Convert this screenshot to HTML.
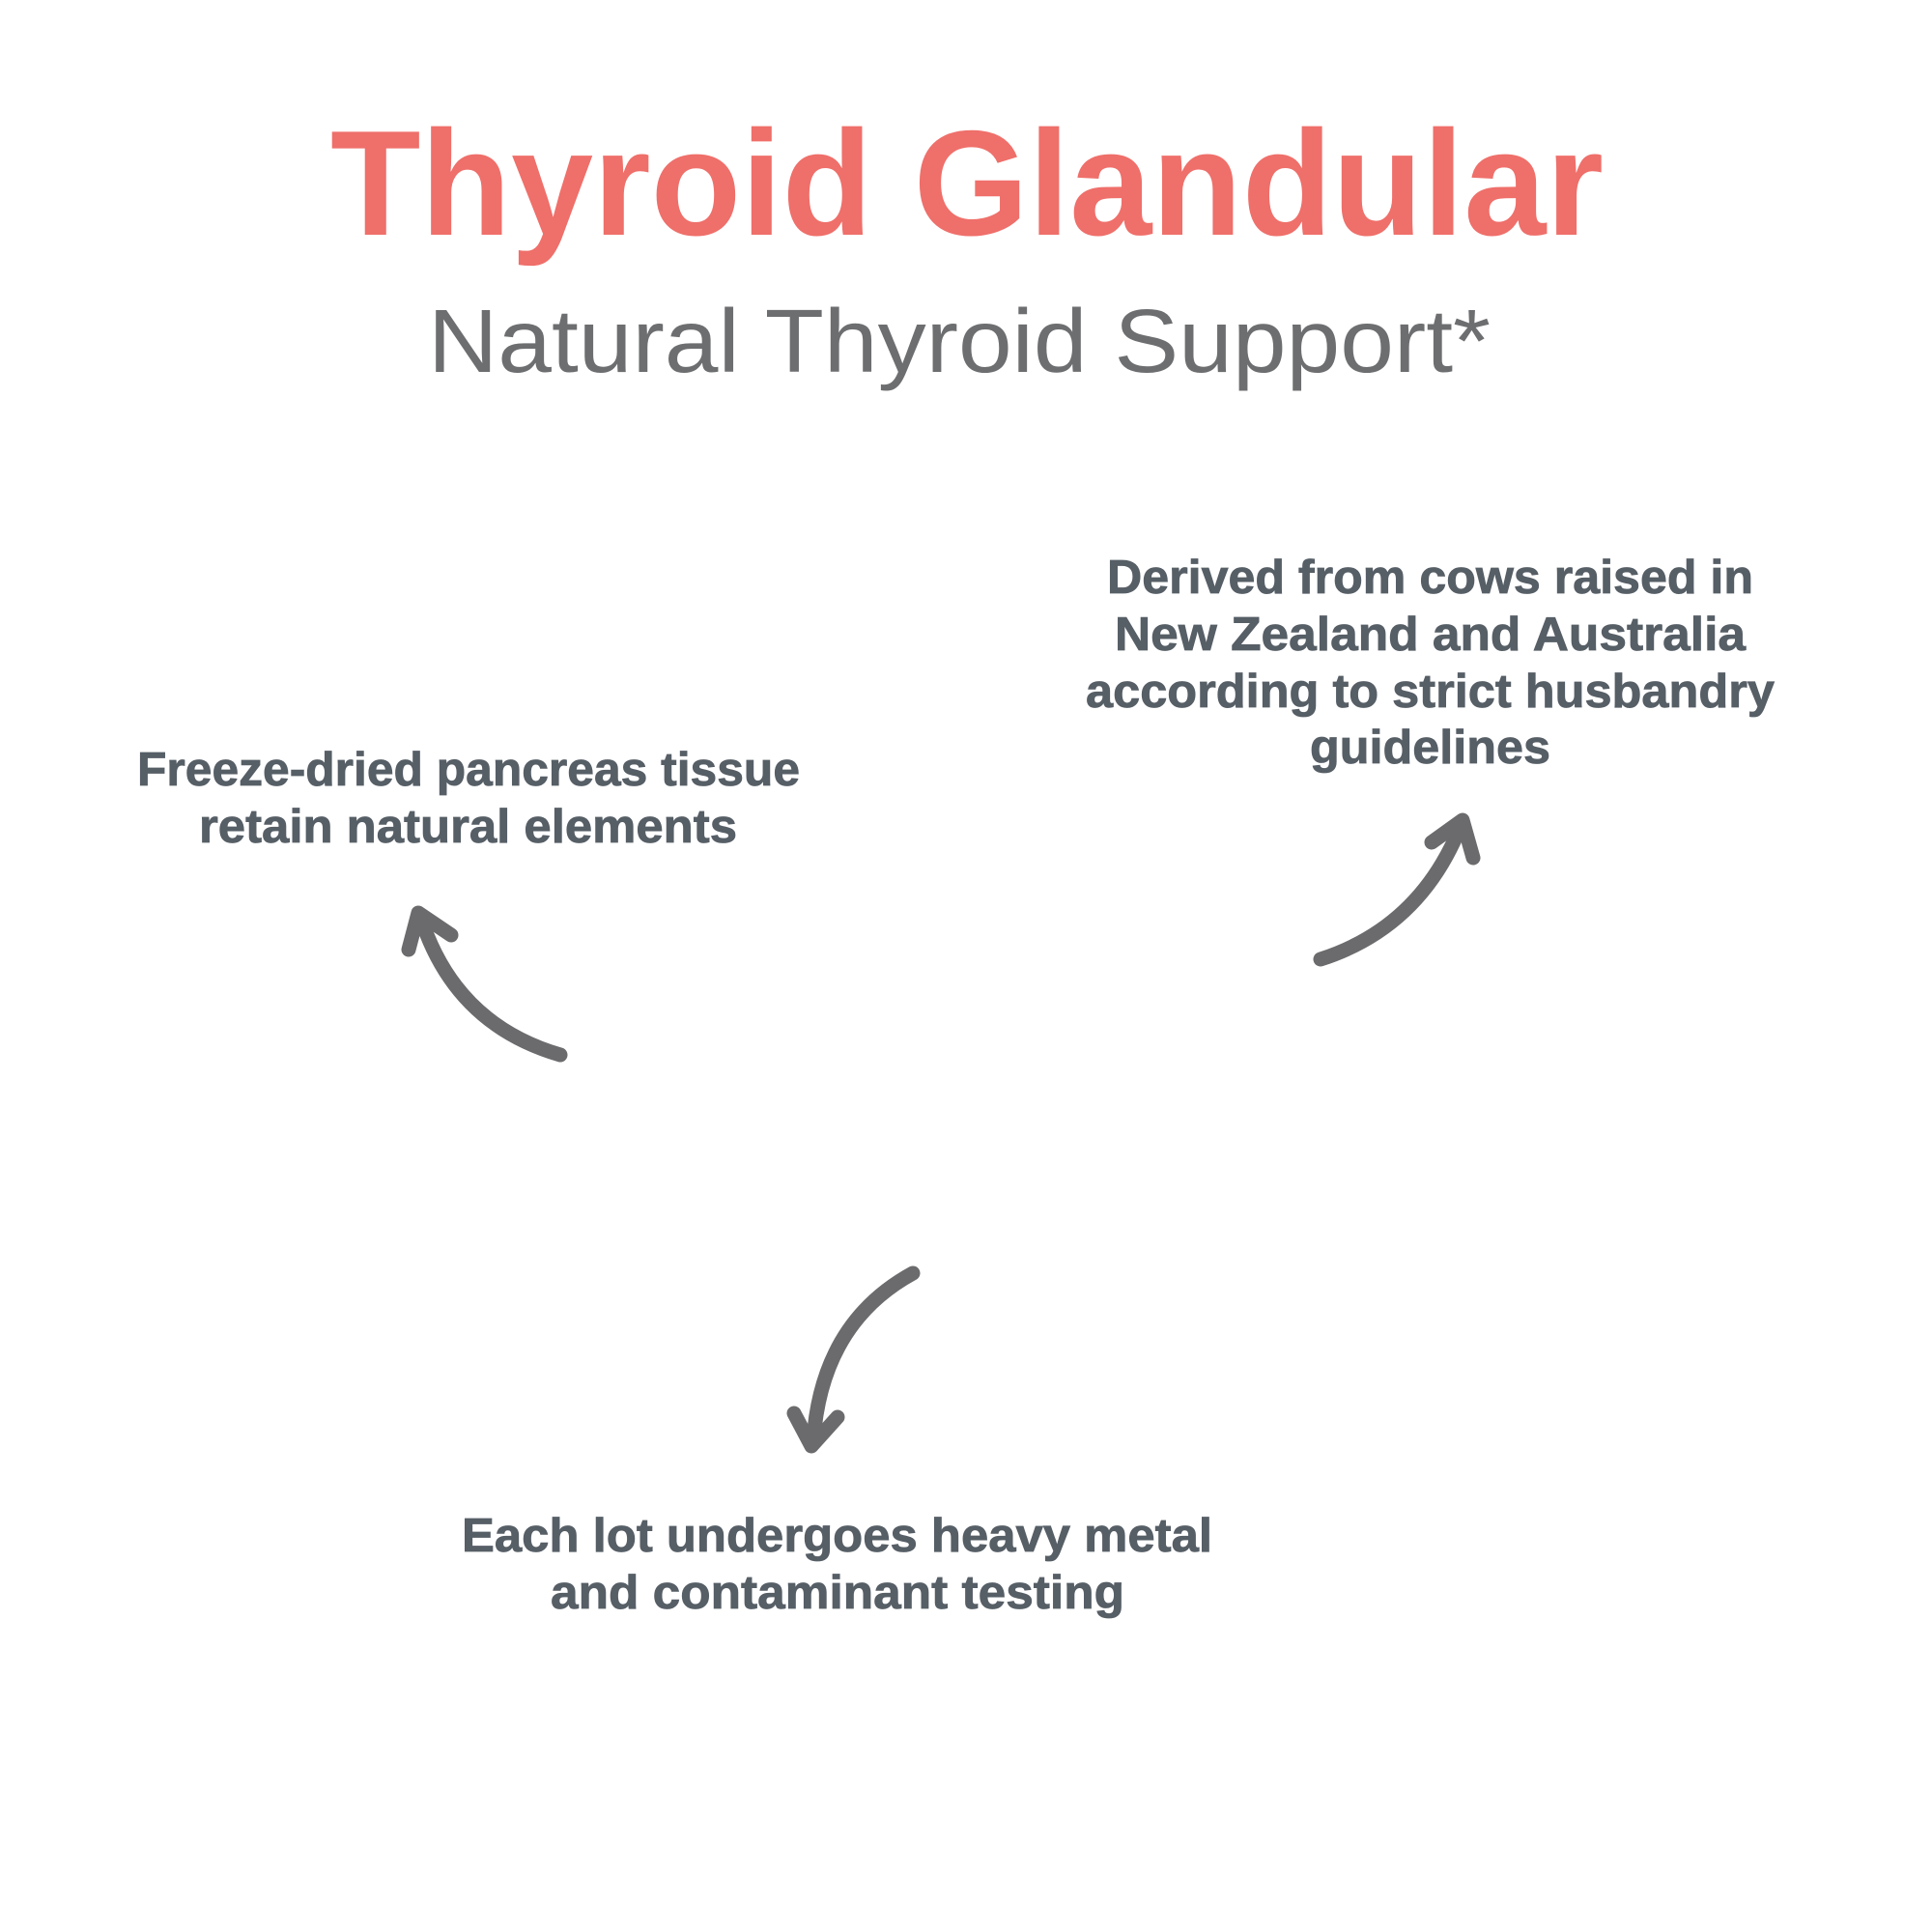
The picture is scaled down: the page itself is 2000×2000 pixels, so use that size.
<!DOCTYPE html>
<html>
<head>
<meta charset="utf-8">
<style>
  html, body { margin: 0; padding: 0; background: #ffffff; }
  body { width: 2000px; height: 2000px; overflow: hidden; }
  svg { display: block; }
  .title { font-family: "Liberation Sans", sans-serif; font-weight: bold; fill: #EF6F6A; }
  .sub { font-family: "Liberation Sans", sans-serif; font-weight: normal; fill: #6D6E70; }
  .body { font-family: "Liberation Sans", sans-serif; font-weight: bold; fill: #565E66; stroke: #565E66; stroke-width: 0.8; font-size: 49px; }
  .arr { fill: none; stroke: #6B6B6D; stroke-width: 15; stroke-linecap: round; stroke-linejoin: round; }
</style>
</head>
<body>
<svg width="2000" height="2000" viewBox="0 0 2000 2000" xmlns="http://www.w3.org/2000/svg">
  <rect width="2000" height="2000" fill="#ffffff"/>

  <text class="title" x="342" y="243" font-size="155" textLength="1318" lengthAdjust="spacingAndGlyphs">Thyroid Glandular</text>
  <text class="sub" x="443" y="385" font-size="93" textLength="1100" lengthAdjust="spacingAndGlyphs">Natural Thyroid Support*</text>

  <!-- Right block -->
  <text class="body" x="1146" y="614" textLength="669" lengthAdjust="spacingAndGlyphs">Derived from cows raised in</text>
  <text class="body" x="1154" y="673" textLength="653" lengthAdjust="spacingAndGlyphs">New Zealand and Australia</text>
  <text class="body" x="1124" y="732" textLength="713" lengthAdjust="spacingAndGlyphs">according to strict husbandry</text>
  <text class="body" x="1356" y="790" textLength="249" lengthAdjust="spacingAndGlyphs">guidelines</text>

  <!-- Left block -->
  <text class="body" x="142" y="813" textLength="686" lengthAdjust="spacingAndGlyphs">Freeze-dried pancreas tissue</text>
  <text class="body" x="206" y="872" textLength="557" lengthAdjust="spacingAndGlyphs">retain natural elements</text>

  <!-- Bottom block -->
  <text class="body" x="478" y="1606" textLength="777" lengthAdjust="spacingAndGlyphs">Each lot undergoes heavy metal</text>
  <text class="body" x="570" y="1665" textLength="594" lengthAdjust="spacingAndGlyphs">and contaminant testing</text>

  <!-- Left arrow -->
  <path class="arr" d="M580,1092 Q470,1060 435,948"/>
  <path class="arr" d="M423,983 L433,945 L467,968"/>

  <!-- Right arrow -->
  <path class="arr" d="M1367,993 Q1470,960 1512,855"/>
  <path class="arr" d="M1482,872 L1514,849 L1525,888"/>

  <!-- Bottom arrow -->
  <path class="arr" d="M945,1318 Q850,1370 842,1492"/>
  <path class="arr" d="M822,1463 L840,1497 L867,1467"/>
</svg>
</body>
</html>
